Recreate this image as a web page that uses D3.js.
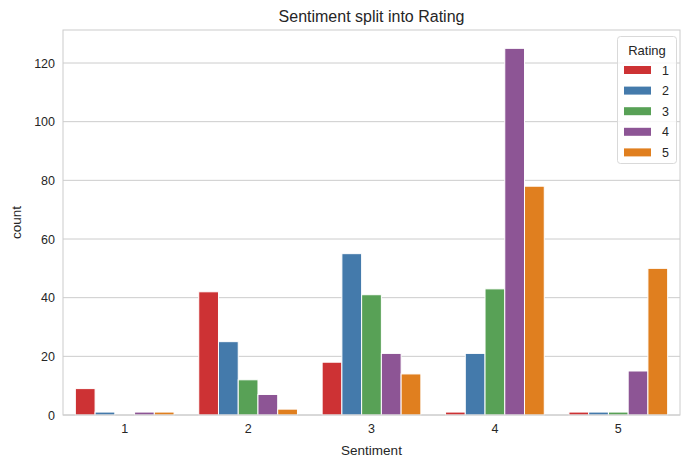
<!DOCTYPE html>
<html><head><meta charset="utf-8">
<script src="https://cdn.jsdelivr.net/npm/d3@7"></script>
<style>body{margin:0;background:#fff;} text{font-family:"Liberation Sans",Arial,sans-serif;fill:#262626;}</style>
</head><body><svg id="c" width="692" height="468"></svg>
<script>
const sentiments = ["1","2","3","4","5"];
const ratings = ["1","2","3","4","5"];
const rating1 = [9, 42, 18, 1, 1];
const rating2 = [1, 25, 55, 21, 1];
const rating3 = [0, 12, 41, 43, 1];
const rating4 = [1, 7, 21, 125, 15];
const rating5 = [1, 2, 14, 78, 50];
const yTicks = [0, 20, 40, 60, 80, 100, 120];
const colors = ["#cd3234", "#447aab", "#58a156", "#8d5595", "#e07f1f"];
const series = [rating1, rating2, rating3, rating4, rating5];

const svg = d3.select("#c");
const m = {l:63, r:680, t:30, b:415};
const x = d3.scaleBand().domain(sentiments).range([m.l, m.r]).paddingInner(0.2).paddingOuter(0.1);
const xi = d3.scaleBand().domain(ratings).range([0, x.bandwidth()]);
const y = d3.scaleLinear().domain([0, 125*1.05]).range([m.b, m.t]);

// grid
svg.append("g").selectAll("line").data(yTicks).join("line")
  .attr("x1", m.l).attr("x2", m.r).attr("y1", d=>y(d)).attr("y2", d=>y(d))
  .attr("stroke", "#cccccc").attr("stroke-width", 1);

// bars
ratings.forEach((r, i) => {
  svg.append("g").selectAll("rect").data(series[i]).join("rect")
    .attr("x", (d, j) => x(sentiments[j]) + xi(r))
    .attr("width", xi.bandwidth())
    .attr("y", d => y(d))
    .attr("height", d => y(0) - y(d))
    .attr("fill", colors[i])
    .attr("stroke", "#ffffff").attr("stroke-width", 1);
});

// spines
svg.append("rect").attr("x", m.l).attr("y", m.t).attr("width", m.r - m.l).attr("height", m.b - m.t)
  .attr("fill", "none").attr("stroke", "#cccccc").attr("stroke-width", 1);

// axes
const yAx = svg.append("g").attr("transform", `translate(${m.l},0)`)
  .call(d3.axisLeft(y).tickValues(yTicks).tickSize(0).tickPadding(8));
yAx.select(".domain").remove();
yAx.selectAll("text").attr("font-size", 12.5).style("fill", "#262626");
const xAx = svg.append("g").attr("transform", `translate(0,${m.b})`)
  .call(d3.axisBottom(x.copy().paddingInner(0).paddingOuter(0)).tickSize(0).tickPadding(9));
xAx.select(".domain").remove();
xAx.selectAll("text").attr("font-size", 12.5).style("fill", "#262626");

// labels
svg.append("text").attr("x", (m.l + m.r)/2).attr("y", 22).attr("text-anchor", "middle")
  .attr("font-size", 16).text("Sentiment split into Rating");
svg.append("text").attr("x", (m.l + m.r)/2).attr("y", 455).attr("text-anchor", "middle")
  .attr("font-size", 13.5).text("Sentiment");
svg.append("text").attr("transform", `translate(21,${(m.t + m.b)/2}) rotate(-90)`)
  .attr("text-anchor", "middle").attr("font-size", 13.5).text("count");

// legend
const lg = svg.append("g");
lg.append("rect").attr("x", 617.5).attr("y", 36.5).attr("width", 59).attr("height", 127).attr("rx", 3)
  .attr("fill", "#ffffff").attr("fill-opacity", 0.8).attr("stroke", "#d9d9d9");
lg.append("text").attr("x", 647).attr("y", 55).attr("text-anchor", "middle").attr("font-size", 13).text("Rating");
ratings.forEach((r, i) => {
  const cy = 70 + i * 20.6;
  lg.append("rect").attr("x", 624).attr("y", cy - 4).attr("width", 27).attr("height", 8).attr("fill", colors[i]);
  lg.append("text").attr("x", 669).attr("y", cy + 4.5).attr("text-anchor", "end").attr("font-size", 12.5).text(r);
});
</script></body></html>
